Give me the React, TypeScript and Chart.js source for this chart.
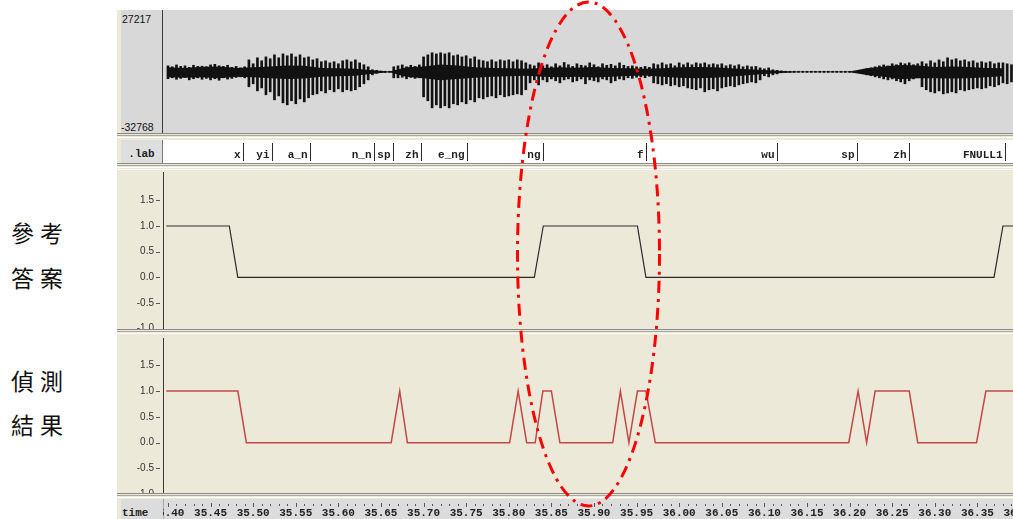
import React, { useEffect, useRef } from "react";
import { Chart, registerables } from "chart.js";

Chart.register(...registerables);

// ---------- shared time axis ----------
const X_MIN = 35.3977;
const X_MAX = 36.3918;

const timeTicks = [35.40, 35.45, 35.50, 35.55, 35.60, 35.65, 35.70, 35.75, 35.80, 35.85, 35.90,
  35.95, 36.00, 36.05, 36.10, 36.15, 36.20, 36.25, 36.30, 36.35, 36.40];
const timeTickLabels = ["35.40", "35.45", "35.50", "35.55", "35.60", "35.65", "35.70", "35.75", "35.80",
  "35.85", "35.90", "35.95", "36.00", "36.05", "36.10", "36.15", "36.20", "36.25", "36.30", "36.35", "36.40"];

// ---------- panel y ticks ----------
const yTickValues = [1.5, 1.0, 0.5, 0.0, -0.5, -1.0];

// ---------- reference answer (參考答案) ----------
const refTimes = [35.398, 35.472, 35.482, 35.830, 35.8405, 35.951, 35.961, 36.3695, 36.380, 36.392];
const refValues = [1, 1, 0, 0, 1, 1, 0, 0, 1, 1];

// ---------- detection result (偵測結果) ----------
const detTimes = [35.398, 35.482, 35.492, 35.662, 35.672, 35.681, 35.801, 35.811, 35.821, 35.831,
  35.840, 35.850, 35.860, 35.922, 35.931, 35.941, 35.951, 35.961, 35.972, 36.199,
  36.210, 36.220, 36.230, 36.270, 36.280, 36.349, 36.360, 36.392];
const detValues = [1, 1, 0, 0, 1, 0, 0, 1, 0, 0,
  1, 1, 0, 0, 1, 0, 1, 1, 0, 0,
  1, 0, 1, 1, 0, 0, 1, 1];

// ---------- label tier (.lab) ----------
const tierTimes = [35.4877, 35.5218, 35.5667, 35.6422, 35.6638, 35.6970, 35.7513, 35.8405,
  35.9611, 36.1152, 36.2091, 36.2698, 36.3825];
const tierLabels = ["x", "yi", "a_n", "n_n", "sp", "zh", "e_ng", "ng", "f", "wu", "sp", "zh", "FNULL1"];

// ---------- waveform (amplitude in thousands of sample units) ----------
const waveAxisLabels = ["27217", "-32768"];
const WAVE_MIN = -32.768;
const WAVE_MAX = 27.217;
const WAVE_START = 35.400;
const WAVE_STEP = 0.005;
const waveHi = [
  3.2, 2.7, 3.7, 2.9, 3.2, 2.4, 3.5, 2.9, 3.0, 2.7, 3.7, 4.0, 3.2, 2.9, 3.5, 2.4, 2.9, 2.1, 2.7,
  6.4, 4.3, 7.5, 5.9, 8.0, 7.0, 9.1, 7.5, 9.6, 8.6, 9.6, 8.0, 9.1, 7.5, 8.0, 6.4, 7.0, 5.4, 5.9, 4.8,
  5.4, 4.3, 5.9, 6.4, 5.4, 6.4, 4.8, 3.8, 2.7, 1.1,
  0.8, 0.4, 0.3, 0.3, 2.7,
  3.2, 3.7, 2.7, 3.5, 2.9, 3.7,
  8.0, 9.1, 10.2, 9.6, 10.2, 9.6, 10.2, 8.6, 9.1, 8.0, 8.6, 7.0, 8.0, 6.4, 5.9, 5.4, 6.4, 5.4, 6.4,
  5.9, 6.4, 5.4, 6.4, 5.9, 4.8, 3.8, 3.2,
  4.8, 3.2, 3.8, 2.7, 4.3, 3.2, 5.0, 3.8, 2.9, 4.3, 3.5, 3.2, 4.8, 3.8, 2.7, 4.3, 3.5, 4.0, 3.2, 4.8,
  3.5, 2.9, 3.2, 2.7, 2.4, 2.9, 2.4,
  4.3, 3.8, 4.8, 3.8, 4.3, 3.2, 4.8, 3.8, 4.8, 3.8, 4.8, 4.3, 4.8, 3.8, 4.3, 3.8, 4.3, 3.2, 3.8, 3.2,
  3.8, 2.7, 3.2, 2.7, 2.9, 2.1,
  1.6, 2.1, 1.1, 0.8, 0.5,
  0.3, 0.3, 0.3, 0.3, 0.3, 0.3, 0.3, 0.3, 0.3, 0.3, 0.3, 0.3, 0.3, 0.3, 0.3, 0.3, 0.3, 0.3, 0.3,
  1.6, 2.1, 2.7, 3.2, 3.7, 3.2, 4.3, 3.8, 4.8, 4.3, 4.8, 3.8, 4.3,
  5.4, 4.3, 5.9, 4.8, 6.4, 5.4, 7.5, 6.4, 7.0, 5.9, 6.4, 5.4, 5.9, 4.8, 5.4, 4.8, 5.4, 4.3, 4.8, 4.8,
  4.3, 3.8,
];
const waveLo = [
  -3.7, -3.2, -4.0, -3.5, -3.0, -4.3, -3.7, -3.2, -4.0, -3.5, -4.3, -3.7, -4.5, -3.2, -3.9, -3.5, -3.0, -2.7, -3.2,
  -8.0, -6.4, -10.2, -8.6, -12.3, -10.7, -15.0, -12.9, -16.6, -17.7, -15.5, -17.1, -14.5, -16.1, -13.9, -12.3,
  -11.8, -10.2, -11.3, -9.6, -10.7, -9.1, -10.7, -9.6, -10.2, -9.6, -8.0, -6.4, -4.3, -1.6,
  -0.8, -0.4, -0.3, -0.3, -3.2,
  -3.2, -2.9, -3.7, -3.0, -3.5, -3.2,
  -13.4, -15.5, -19.3, -17.7, -19.3, -18.2, -19.3, -17.1, -17.7, -16.1, -17.1, -15.0, -16.1, -13.9, -14.5,
  -13.4, -12.9, -13.9, -12.3, -13.4, -12.9, -12.3, -11.8, -12.3, -9.6, -5.9, -4.3,
  -7.0, -4.3, -5.4, -3.8, -4.8, -5.9, -4.3, -3.8, -5.4, -4.8, -3.8, -6.4, -4.3, -4.8, -5.4, -3.8, -4.3,
  -5.9, -4.8, -3.8, -4.3, -3.2, -3.5, -2.9, -2.7, -3.2, -2.4,
  -5.9, -6.4, -7.0, -6.4, -7.5, -7.0, -8.0, -7.5, -8.6, -9.1, -9.6, -8.6, -10.7, -9.6, -9.1, -10.2, -8.6,
  -8.0, -7.5, -8.0, -7.0, -6.4, -5.9, -5.4, -5.9, -4.3,
  -2.1, -2.7, -1.6, -1.1, -0.5,
  -0.3, -0.3, -0.3, -0.3, -0.3, -0.3, -0.3, -0.3, -0.3, -0.3, -0.3, -0.3, -0.3, -0.3, -0.3, -0.3, -0.3, -0.3, -0.3,
  -1.6, -2.1, -2.7, -3.2, -3.8, -4.3, -3.8, -4.8, -5.4, -6.4, -4.8, -3.8, -3.2,
  -8.0, -9.6, -10.7, -11.3, -10.2, -11.8, -11.3, -10.7, -11.3, -9.6, -10.2, -9.6, -9.1, -8.6, -9.1, -8.6,
  -7.5, -8.0, -7.0, -5.9, -6.4, -5.4,
];
const CORE_START = 35.40;
const CORE_STEP = 0.02;
const coreHi = [
  2.4, 2.1, 2.7, 2.9, 2.1, 2.4, 2.9, 3.4, 3.2, 2.1,
  1.9, 1.6, 0.8, 0.2, 2.4, 2.9, 3.9, 3.4, 2.4, 2.1,
  1.9, 1.6, 2.1, 2.4, 2.2, 2.6, 2.1, 1.9, 1.6, 1.9,
  2.4, 2.6, 2.4, 1.9, 1.4, 1.0, 0.5, 0.2, 0.2, 0.2,
  0.2, 1.9, 2.9, 3.6, 3.4, 2.6, 2.9, 2.6, 2.1, 1.9,
];
const coreLo = [
  -2.9, -3.2, -2.9, -3.5, -2.6, -2.9, -3.4, -3.9, -3.6, -2.7,
  -2.4, -2.1, -1.1, -0.2, -2.7, -3.4, -4.5, -3.9, -3.2, -2.6,
  -2.4, -2.1, -2.6, -2.9, -2.6, -3.0, -2.6, -2.3, -2.0, -2.6,
  -3.2, -3.4, -3.2, -2.6, -1.9, -1.2, -0.6, -0.2, -0.2, -0.2,
  -0.2, -1.7, -2.7, -4.0, -3.5, -3.4, -3.6, -3.4, -2.9, -2.4,
];

const sideLabels = [["參考", "答案"], ["偵測", "結果"]];

// ---------- styling constants ----------
const BEIGE = "#ece9d8";
const SANS = '"Liberation Sans", Arial, sans-serif';
const MONO = '"Liberation Mono", "Courier New", monospace';

const baseOptions = () => ({
  responsive: false,
  animation: false as const,
  events: [] as any[],
  plugins: { legend: { display: false }, tooltip: { enabled: false } },
});

const panelAxisPlugin = {
  id: "panelAxis",
  afterDraw(chart: any) {
    const { ctx, chartArea } = chart;
    const y = chart.scales.y;
    ctx.save();
    ctx.strokeStyle = "#3a3a3a";
    ctx.lineWidth = 1;
    const ax = chartArea.left - 3 + 0.5;
    ctx.beginPath();
    ctx.moveTo(ax, chartArea.top + 1);
    ctx.lineTo(ax, chartArea.bottom);
    ctx.stroke();
    ctx.strokeStyle = "#555";
    yTickValues.forEach((v) => {
      const py = Math.round(y.getPixelForValue(v)) + 0.5;
      ctx.beginPath();
      ctx.moveTo(chartArea.left - 10, py);
      ctx.lineTo(chartArea.left - 6, py);
      ctx.stroke();
    });
    ctx.restore();
  },
};

const tierPlugin = {
  id: "tier",
  afterDraw(chart: any) {
    const { ctx } = chart;
    const x = chart.scales.x;
    ctx.save();
    ctx.font = `bold 11px ${MONO}`;
    ctx.fillStyle = "#222";
    ctx.textAlign = "right";
    ctx.textBaseline = "alphabetic";
    ctx.strokeStyle = "#2a2a2a";
    ctx.lineWidth = 1;
    tierTimes.forEach((t, i) => {
      const px = Math.round(x.getPixelForValue(t)) + 0.5;
      ctx.beginPath();
      ctx.moveTo(px, 3);
      ctx.lineTo(px, 21);
      ctx.stroke();
      ctx.fillText(tierLabels[i], px - 3, 18);
    });
    ctx.restore();
  },
};

const timeTickPlugin = {
  id: "timeTicks",
  afterDraw(chart: any) {
    const { ctx } = chart;
    const x = chart.scales.x;
    ctx.save();
    ctx.strokeStyle = "#555";
    ctx.lineWidth = 1;
    for (let k = 0; k <= 100; k++) {
      const t = 35.40 + k * 0.01;
      const px = Math.round(x.getPixelForValue(t)) + 0.5;
      const major = k % 5 === 0;
      ctx.beginPath();
      ctx.moveTo(px, major ? 3 : 4);
      ctx.lineTo(px, major ? 7 : 6);
      ctx.stroke();
    }
    ctx.restore();
  },
};

function panelConfig(times: number[], values: number[], color: string, width: number, yMin: number, yMax: number) {
  return {
    type: "line",
    data: {
      datasets: [
        {
          data: times.map((t, i) => ({ x: t, y: values[i] })),
          borderColor: color,
          borderWidth: width,
          pointRadius: 0,
          tension: 0,
          fill: false,
        },
      ],
    },
    options: {
      ...baseOptions(),
      layout: { padding: 0 },
      scales: {
        x: { type: "linear", min: X_MIN, max: X_MAX, display: false },
        y: {
          type: "linear",
          min: yMin,
          max: yMax,
          position: "left",
          grid: { display: false, drawTicks: false },
          border: { display: false },
          ticks: {
            padding: 12,
            color: "#333",
            font: { size: 10, family: SANS },
            callback: (v: any) => Number(v).toFixed(1),
          },
          afterBuildTicks: (s: any) => {
            s.ticks = yTickValues.map((v) => ({ value: v }));
          },
          afterFit: (s: any) => {
            s.width = 51;
            s.paddingTop = 0;
            s.paddingBottom = 0;
          },
        },
      },
    },
    plugins: [panelAxisPlugin],
  } as any;
}

function waveConfig() {
  const waveTimes = waveHi.map((_, i) => WAVE_START + i * WAVE_STEP);
  const coreTimes = coreHi.map((_, i) => CORE_START + i * CORE_STEP);
  return {
    type: "bar",
    data: {
      datasets: [
        {
          type: "line",
          data: coreTimes.map((t, i) => ({ x: t, y: coreHi[i] })),
          borderWidth: 0,
          borderColor: "rgba(0,0,0,0)",
          backgroundColor: "#111",
          pointRadius: 0,
          tension: 0,
          fill: "+1",
        },
        {
          type: "line",
          data: coreTimes.map((t, i) => ({ x: t, y: coreLo[i] })),
          borderWidth: 0,
          borderColor: "rgba(0,0,0,0)",
          pointRadius: 0,
          tension: 0,
          fill: false,
        },
        {
          type: "bar",
          data: waveTimes.map((t, i) => ({ x: t, y: [waveLo[i], waveHi[i]] })),
          backgroundColor: "#111",
          borderWidth: 0,
          barThickness: 2,
          grouped: false,
        },
      ],
    },
    options: {
      ...baseOptions(),
      layout: { padding: 0 },
      scales: {
        x: { type: "linear", min: X_MIN, max: X_MAX, display: false, offset: false },
        y: { type: "linear", min: WAVE_MIN, max: WAVE_MAX, display: false },
      },
    },
  } as any;
}

function tierConfig() {
  return {
    type: "line",
    data: { datasets: [] },
    options: {
      ...baseOptions(),
      layout: { padding: { left: 3 } },
      scales: {
        x: { type: "linear", min: X_MIN, max: X_MAX, display: false },
        y: { type: "linear", min: 0, max: 1, display: false },
      },
    },
    plugins: [tierPlugin],
  } as any;
}

function timeConfig() {
  return {
    type: "line",
    data: { datasets: [] },
    options: {
      ...baseOptions(),
      layout: { padding: { left: 3 } },
      scales: {
        x: {
          type: "linear",
          min: X_MIN,
          max: X_MAX,
          position: "bottom",
          grid: { display: false, drawTicks: false },
          border: { display: false },
          ticks: {
            autoSkip: false,
            maxRotation: 0,
            minRotation: 0,
            padding: 3,
            color: "#222",
            font: { size: 11, family: MONO, weight: "bold" },
            callback: (_v: any, i: number) => timeTickLabels[i],
          },
          afterBuildTicks: (s: any) => {
            s.ticks = timeTicks.map((v) => ({ value: v }));
          },
          afterFit: (s: any) => {
            s.height = 15;
            s.paddingLeft = 0;
            s.paddingRight = 0;
          },
        },
        y: { type: "linear", min: 0, max: 1, display: false },
      },
    },
    plugins: [timeTickPlugin],
  } as any;
}

const abs = (left: number, top: number, width: number, height: number, extra: any = {}) => ({
  position: "absolute" as const,
  left,
  top,
  width,
  height,
  ...extra,
});

export default function App() {
  const waveRef = useRef<HTMLCanvasElement>(null);
  const tierRef = useRef<HTMLCanvasElement>(null);
  const p1Ref = useRef<HTMLCanvasElement>(null);
  const p2Ref = useRef<HTMLCanvasElement>(null);
  const timeRef = useRef<HTMLCanvasElement>(null);

  useEffect(() => {
    const charts: Chart[] = [];
    charts.push(new Chart(waveRef.current as any, waveConfig()));
    charts.push(new Chart(tierRef.current as any, tierConfig()));
    charts.push(new Chart(p1Ref.current as any, panelConfig(refTimes, refValues, "#2a2a2a", 1.2, -1.008, 2.072)));
    charts.push(new Chart(p2Ref.current as any, panelConfig(detTimes, detValues, "rgb(196,72,72)", 1.5, -0.975, 2.048)));
    charts.push(new Chart(timeRef.current as any, timeConfig()));
    return () => charts.forEach((c) => c.destroy());
  }, []);

  const sash = (top: number) => (
    <>
      <div style={abs(117, top, 896, 1, { background: "#8a8a8a" })} />
      <div style={abs(117, top + 2, 896, 1, { background: "#a8a59a" })} />
      <div style={abs(117, top + 4, 896, 1, { background: "#ffffff" })} />
    </>
  );

  return (
    <div style={{ position: "fixed", left: 0, top: 0, width: 1013, height: 519, background: "#fff", overflow: "hidden" }}>
      {/* left side labels */}
      {sideLabels.map((pair, gi) =>
        pair.map((txt, li) => (
          <div
            key={`${gi}-${li}`}
            style={abs(11, [219, 264, 367, 411][gi * 2 + li], 70, 26, {
              fontFamily: '"Noto Sans CJK TC", "Noto Sans CJK SC", sans-serif',
              fontSize: 23,
              lineHeight: "26px",
              letterSpacing: 6,
              color: "#111",
              whiteSpace: "nowrap",
            })}
          >
            {txt}
          </div>
        ))
      )}

      {/* window frame */}
      <div style={abs(117, 10, 896, 509, { background: BEIGE })} />

      {/* waveform pane */}
      <div style={abs(121, 10, 892, 123, { background: "#d8d8d8" })} />
      <div style={abs(162, 10, 1, 123, { background: "#3c3c3c" })} />
      <div style={abs(122, 13, 40, 12, { font: `10.5px ${SANS}`, lineHeight: "12px", color: "#111" })}>{waveAxisLabels[0]}</div>
      <div style={abs(121, 121, 41, 12, { font: `10.5px ${SANS}`, lineHeight: "12px", color: "#111" })}>{waveAxisLabels[1]}</div>
      {sash(133)}

      {/* label tier */}
      <div style={abs(121, 140, 41, 23, { background: "#dedede" })} />
      <div style={abs(162, 140, 1, 23, { background: "#7a7a7a" })} />
      <div style={abs(163, 140, 850, 23, { background: "#ffffff" })} />
      <div style={abs(121, 148, 41, 13, { font: `bold 11px ${MONO}`, lineHeight: "13px", color: "#222", textAlign: "center" })}>.lab</div>
      {sash(163)}
      <div style={abs(117, 169, 896, 1, { background: "#ffffff" })} />

      {sash(329)}
      {sash(493)}

      {/* time strip */}
      <div style={abs(121, 499, 892, 20, { background: "#dcdcdc" })} />
      <div style={abs(163, 499, 1, 20, { background: "#a8a8a8" })} />
      <div style={abs(122, 507, 40, 13, { font: `bold 11px ${MONO}`, lineHeight: "13px", color: "#222" })}>time</div>

      {/* charts */}
      <canvas ref={waveRef} width={847} height={112} style={abs(166, 21, 847, 112)} />
      <canvas ref={tierRef} width={850} height={23} style={abs(163, 140, 850, 23)} />
      <canvas ref={p1Ref} width={898} height={158} style={abs(115, 171, 898, 158)} />
      <canvas ref={p2Ref} width={898} height={156} style={abs(115, 337, 898, 156)} />
      <canvas ref={timeRef} width={850} height={19} style={abs(163, 500, 850, 19)} />

      {/* red dash-dot highlight */}
      <svg width={1013} height={519} style={abs(0, 0, 1013, 519, { pointerEvents: "none" })}>
        <ellipse cx={588.5} cy={254} rx={71} ry={252} fill="none" stroke="#ff0000" strokeWidth={3} strokeDasharray="12 6 3 6" />
      </svg>
    </div>
  );
}
